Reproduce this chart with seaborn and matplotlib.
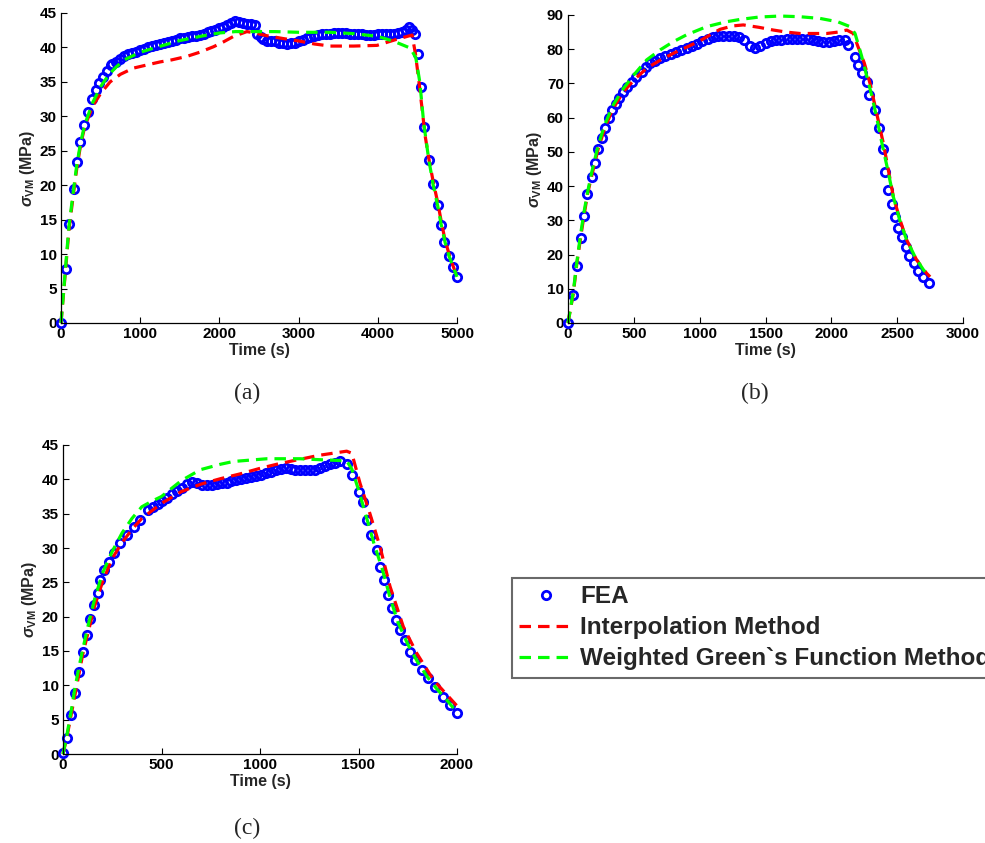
import numpy as np
import pandas as pd
import matplotlib
matplotlib.use("Agg")
import matplotlib.pyplot as plt
from matplotlib.lines import Line2D
import seaborn as sns

# ---------------- data ----------------
# Panel (a)
a_fea_t = [0, 59, 100, 160, 202, 236, 295, 345, 396, 438, 480, 531, 581, 632,
           650, 700, 750, 800, 850, 900, 950, 1000, 1050, 1100, 1150, 1200, 1250, 1300,
           1350, 1400, 1450, 1500, 1550, 1600, 1650, 1700, 1750, 1800, 1850, 1900, 1950,
           2000, 2050, 2100, 2150, 2200, 2250, 2300, 2350, 2400, 2450, 2480, 2520, 2550,
           2600, 2650, 2700, 2750, 2800, 2850, 2900, 2950, 3000, 3050, 3100, 3150, 3200,
           3250, 3300, 3350, 3400, 3450, 3500, 3550, 3600, 3650, 3700, 3750, 3800, 3850,
           3900, 3950, 4000, 4050, 4100, 4150, 4200, 4250, 4300, 4350, 4391, 4430, 4467,
           4509, 4551, 4581, 4644, 4699, 4758, 4800, 4842, 4901, 4952, 4994]
a_fea_v = [0, 7.8, 14.4, 19.4, 23.3, 26.3, 28.8, 30.7, 32.5, 33.8, 34.9, 35.7, 36.6, 37.4,
           37.6, 37.9, 38.3, 38.7, 39.0, 39.2, 39.4, 39.6, 39.8, 40.0, 40.15, 40.3, 40.5, 40.7,
           40.85, 41.0, 41.15, 41.3, 41.4, 41.5, 41.6, 41.7, 41.85, 42.0, 42.2, 42.4, 42.6,
           42.8, 43.0, 43.2, 43.5, 43.8, 43.7, 43.5, 43.4, 43.4, 43.2, 42.0, 41.5, 41.2,
           41.0, 41.0, 40.9, 40.7, 40.6, 40.5, 40.6, 40.7, 40.9, 41.1, 41.3, 41.5, 41.6,
           41.8, 41.9, 42.0, 42.0, 42.1, 42.1, 42.1, 42.1, 42.0, 42.0, 41.9, 41.9, 41.8,
           41.8, 41.8, 41.9, 41.9, 41.9, 42.0, 42.0, 42.1, 42.2, 42.5, 42.9, 42.6, 42.0,
           39.0, 34.2, 28.5, 23.7, 20.2, 17.1, 14.2, 11.7, 9.7, 8.2, 6.7]
a_int_t = [0, 60, 100, 160, 200, 250, 300, 400, 500, 620, 750, 914, 1100, 1252, 1400, 1589,
           1750, 1925, 2050, 2178, 2347, 2450, 2600, 2800, 3021, 3200, 3400, 3695, 3990,
           4244, 4433, 4475, 4520, 4560, 4600, 4650, 4700, 4760, 4800, 4850, 4900, 4950, 5000]
a_int_v = [0, 8, 13.5, 19, 22.5, 26, 28.5, 31.5, 33.3, 35.0, 36.1, 37.0, 37.5, 37.9, 38.2, 38.7,
           39.3, 40.1, 40.8, 41.6, 42.3, 42.1, 41.7, 41.3, 40.9, 40.5, 40.2, 40.2, 40.3,
           41.2, 41.8, 39.1, 35.0, 31.0, 27.0, 23.5, 20.5, 17.3, 14.8, 12.0, 10.0, 8.3, 6.7]
a_wgf_t = [0, 50, 100, 160, 200, 250, 300, 400, 500, 600, 700, 800, 1000, 1200, 1500, 1800,
           2000, 2200, 2400, 2700, 3000, 3400, 3700, 4000, 4200, 4412, 4480, 4530, 4580, 4640,
           4700, 4760, 4800, 4850, 4900, 4950, 5000]
a_wgf_v = [0, 7, 14, 19.5, 23, 26.3, 28.8, 32.0, 34.3, 36.0, 37.2, 38.2, 39.3, 40.0, 41.0, 41.7,
           42.1, 42.3, 42.3, 42.3, 42.2, 42.2, 42.0, 41.6, 40.9, 39.9, 38.5, 35.0, 29.0, 24.0,
           20.0, 16.8, 14.3, 11.7, 9.7, 8.2, 6.7]

# Panel (b)
b_fea_t = [0, 41, 66, 96, 122, 147, 180, 208, 228, 256, 281, 309, 337, 365, 390, 420, 450, 484,
           520, 560, 590, 623, 660, 700, 740, 780, 820, 860, 900, 940, 980, 1020, 1060, 1100,
           1140, 1180, 1220, 1260, 1300, 1340, 1380, 1420, 1460, 1500, 1540, 1580, 1620, 1660,
           1700, 1740, 1780, 1820, 1860, 1900, 1940, 1980, 2020, 2060, 2100, 2129,
           2180, 2205, 2230, 2268, 2288, 2332, 2365, 2390, 2408, 2433, 2458, 2484, 2509, 2534,
           2565, 2592, 2628, 2661, 2694, 2744]
b_fea_v = [0, 8.2, 16.8, 24.9, 31.4, 37.6, 42.8, 46.8, 50.8, 54.2, 57.1, 59.8, 62.2, 64.0, 65.8,
           67.6, 69.0, 70.5, 72.0, 73.4, 74.7, 75.9, 76.7, 77.3, 78.0, 78.5, 79.1, 79.8, 80.4,
           81.0, 81.6, 82.3, 82.9, 83.6, 83.9, 84.0, 84.0, 83.9, 83.6, 82.8, 81.0, 80.3, 80.8,
           81.8, 82.4, 82.7, 82.8, 82.9, 82.9, 82.9, 82.9, 82.9, 82.6, 82.4, 82.2, 82.2, 82.4,
           82.6, 82.7, 81.2, 77.8, 75.4, 73.0, 70.5, 66.6, 62.2, 56.9, 50.8, 44.2, 38.9, 34.8,
           31.1, 27.9, 25.0, 22.1, 19.6, 17.4, 15.3, 13.5, 11.8]
b_int_t = [0, 40, 66, 96, 122, 150, 180, 230, 280, 340, 420, 500, 600, 700, 800, 900, 1000,
           1080, 1154, 1250, 1331, 1450, 1560, 1660, 1762, 1965, 2050, 2117, 2167, 2200, 2250,
           2294, 2344, 2395, 2433, 2471, 2522, 2572, 2648, 2724, 2750]
b_int_v = [0, 8.5, 17, 25, 31.5, 38, 43, 51, 57, 62.5, 67.5, 71, 74.5, 76.8, 78.8, 80.6, 82.4,
           84.2, 85.8, 86.8, 87.1, 86.4, 85.6, 85.0, 84.6, 84.6, 85.0, 85.6, 84.6, 81.0, 76.0,
           70.0, 61.3, 52.5, 44.7, 36.9, 30.1, 24.3, 18.4, 14.5, 13.5]
b_wgf_t = [0, 40, 66, 96, 122, 150, 180, 230, 280, 340, 420, 500, 598, 700, 800, 900, 1053,
           1200, 1306, 1450, 1610, 1760, 1914, 2050, 2142, 2180, 2230, 2270, 2310, 2350, 2390,
           2430, 2470, 2520, 2570, 2640, 2700, 2750]
b_wgf_v = [0, 9, 17.5, 26, 32.5, 38.5, 44, 52, 58, 63.5, 68.5, 72.5, 76.9, 79.8, 82.2, 84.2,
           86.6, 88.0, 88.7, 89.4, 89.7, 89.5, 89.0, 88.0, 86.6, 84.6, 78, 72, 66, 59, 51.5,
           44.5, 37, 30, 24.5, 19, 15.5, 13.5]

# Panel (c)
c_fea_t = [0, 20, 39, 61, 81, 101, 122, 135, 159, 176, 186, 209, 231, 257, 291, 325, 358, 392,
           434, 455, 480, 505, 530, 555, 580, 605, 630, 655, 680, 705, 730, 755, 780, 805, 830,
           855, 880, 905, 930, 955, 980, 1005, 1030, 1055, 1080, 1105, 1130, 1155, 1180, 1205,
           1230, 1255, 1280, 1305, 1330, 1355, 1380, 1406, 1440, 1466, 1504, 1525,
           1545, 1564, 1593, 1610, 1630, 1652, 1669, 1690, 1711, 1736, 1762, 1787, 1821, 1855,
           1888, 1931, 1965, 2000]
c_fea_v = [0.1, 2.4, 5.7, 8.9, 12.0, 14.8, 17.3, 19.7, 21.7, 23.5, 25.3, 26.8, 28.0, 29.2, 30.7,
           31.9, 33.1, 34.1, 35.5, 35.9, 36.4, 36.8, 37.3, 37.8, 38.3, 38.8, 39.3, 39.6, 39.4,
           39.2, 39.2, 39.2, 39.3, 39.4, 39.5, 39.7, 39.9, 40.0, 40.2, 40.4, 40.5, 40.7, 40.9,
           41.1, 41.3, 41.5, 41.6, 41.5, 41.4, 41.4, 41.3, 41.3, 41.4, 41.6, 41.9, 42.2, 42.4,
           42.6, 42.3, 40.6, 38.1, 36.7, 34.1, 31.9, 29.7, 27.3, 25.3, 23.2, 21.2, 19.5, 18.0,
           16.6, 14.9, 13.7, 12.2, 11.0, 9.8, 8.3, 7.1, 6.0]
c_int_t = [0, 20, 40, 60, 80, 100, 130, 160, 200, 250, 300, 350, 400, 500, 600, 700, 800, 900,
           1000, 1100, 1200, 1300, 1440, 1466, 1508, 1558, 1609, 1660, 1728, 1795, 1880, 2000]
c_int_v = [0, 2.5, 5.5, 8.5, 11.5, 14.5, 18, 21.5, 25, 28.5, 30.8, 32.7, 34.3, 36.5, 38.2, 39.3,
           40.1, 40.8, 41.6, 42.3, 42.9, 43.5, 44.1, 43.8, 39.4, 35.0, 30.2, 24.4, 18.5, 14.7,
           10.8, 7.0]
c_wgf_t = [0, 20, 40, 60, 80, 100, 130, 160, 200, 250, 300, 350, 400, 450, 500, 600, 697, 800,
           865, 1035, 1204, 1271, 1440, 1466, 1500, 1540, 1580, 1620, 1660, 1700, 1750, 1800,
           1850, 1900, 1950, 1990]
c_wgf_v = [0, 2.8, 6, 9.5, 12.5, 15.2, 19, 22.5, 26.3, 29.5, 32.2, 34.3, 36.0, 36.8, 37.5, 39.8,
           41.4, 42.2, 42.6, 43.0, 43.0, 42.9, 42.7, 41.5, 38.5, 34.5, 30.5, 27, 22.8, 19.2,
           16, 13.4, 11.2, 9.4, 7.8, 6.4]

series_labels = ["FEA", "Interpolation Method", "Weighted Green`s Function Method"]
panel_letters = ["(a)", "(b)", "(c)"]

# ---------------- style ----------------
sns.set_style("ticks")
plt.rcParams["font.family"] = ["Liberation Sans", "DejaVu Sans"]
plt.rcParams["font.weight"] = "bold"
plt.rcParams["mathtext.fontset"] = "custom"
plt.rcParams["mathtext.rm"] = "Liberation Sans"
plt.rcParams["mathtext.it"] = "Liberation Sans:italic"
plt.rcParams["mathtext.bf"] = "Liberation Sans:bold"
plt.rcParams["xtick.direction"] = "in"
plt.rcParams["ytick.direction"] = "in"

BLUE, RED, GREEN = "#0000ff", "#ff0000", "#00ff00"
DASH = (0, (3.6, 2.2))
LW = 2.3
MS, MEW = 6.0, 2.0

fig = plt.figure(figsize=(9.85, 8.43), dpi=100)
W, H = 985, 843

def px_axes(l, r, t, b):
    return fig.add_axes([l / W, 1 - b / H, (r - l) / W, (b - t) / H])

ax_a = px_axes(61, 457, 13, 323)
ax_b = px_axes(568, 963, 15, 323)
ax_c = px_axes(63, 457, 445, 754)

panels = [
    (ax_a, a_fea_t, a_fea_v, a_int_t, a_int_v, a_wgf_t, a_wgf_v, (0, 5000), (0, 45),
     np.arange(0, 5001, 1000), np.arange(0, 46, 5)),
    (ax_b, b_fea_t, b_fea_v, b_int_t, b_int_v, b_wgf_t, b_wgf_v, (0, 3000), (0, 90),
     np.arange(0, 3001, 500), np.arange(0, 91, 10)),
    (ax_c, c_fea_t, c_fea_v, c_int_t, c_int_v, c_wgf_t, c_wgf_v, (0, 2000), (0, 45),
     np.arange(0, 2001, 500), np.arange(0, 46, 5)),
]

for ax, ft, fv, it, iv, gt, gv, xl, yl, xt, yt in panels:
    dfe = pd.DataFrame({"t": ft, "v": fv})
    dfi = pd.DataFrame({"t": it, "v": iv})
    dfg = pd.DataFrame({"t": gt, "v": gv})
    sns.lineplot(data=dfe, x="t", y="v", ax=ax, sort=False, estimator=None,
                 linestyle="none", marker="o", markersize=MS, markerfacecolor="none",
                 markeredgecolor=BLUE, markeredgewidth=MEW, color=BLUE, clip_on=False)
    sns.lineplot(data=dfi, x="t", y="v", ax=ax, sort=False, estimator=None,
                 color=RED, linewidth=LW, linestyle=DASH, clip_on=False)
    sns.lineplot(data=dfg, x="t", y="v", ax=ax, sort=False, estimator=None,
                 color=GREEN, linewidth=LW, linestyle=DASH, clip_on=False)
    ax.set_xlim(*xl)
    ax.set_ylim(*yl)
    ax.set_xticks(xt)
    ax.set_yticks(yt)
    ax.tick_params(labelsize=11, length=4, width=0.8, pad=3, colors="black")
    for lab in ax.get_xticklabels() + ax.get_yticklabels():
        lab.set_fontweight("bold")
    sns.despine(ax=ax)
    for s in ("left", "bottom"):
        ax.spines[s].set_linewidth(0.9)
        ax.spines[s].set_color("black")
    ax.set_xlabel("Time (s)", fontsize=11.5, fontweight="bold", labelpad=1)
    ax.set_ylabel(r"$\sigma_{\mathbf{VM}}$ (MPa)", fontsize=11.5, fontweight="bold", labelpad=2)

# panel letters
for (x, y), letter in zip([(247, 393), (755, 393), (247, 828)], panel_letters):
    fig.text(x / W, 1 - y / H, letter, ha="center", va="center",
             family=["Liberation Serif", "DejaVu Serif"], fontsize=17, fontweight="normal")

# legend
handles = [
    Line2D([], [], linestyle="none", marker="o", markersize=MS, markerfacecolor="none",
           markeredgecolor=BLUE, markeredgewidth=MEW),
    Line2D([], [], color=RED, linewidth=LW, linestyle=DASH),
    Line2D([], [], color=GREEN, linewidth=LW, linestyle=DASH),
]
leg = fig.legend(handles, series_labels, loc="upper left",
                 bbox_to_anchor=(512 / W, 1 - 578 / H), frameon=True, fancybox=False,
                 prop={"family": "Liberation Sans", "weight": "bold", "size": 17.5},
                 handlelength=2.2, handletextpad=0.3, labelspacing=0.33,
                 borderpad=0.3, borderaxespad=0)
leg.get_frame().set_edgecolor("#444444")
leg.get_frame().set_linewidth(1.5)

fig.savefig("out.png", dpi=100)
